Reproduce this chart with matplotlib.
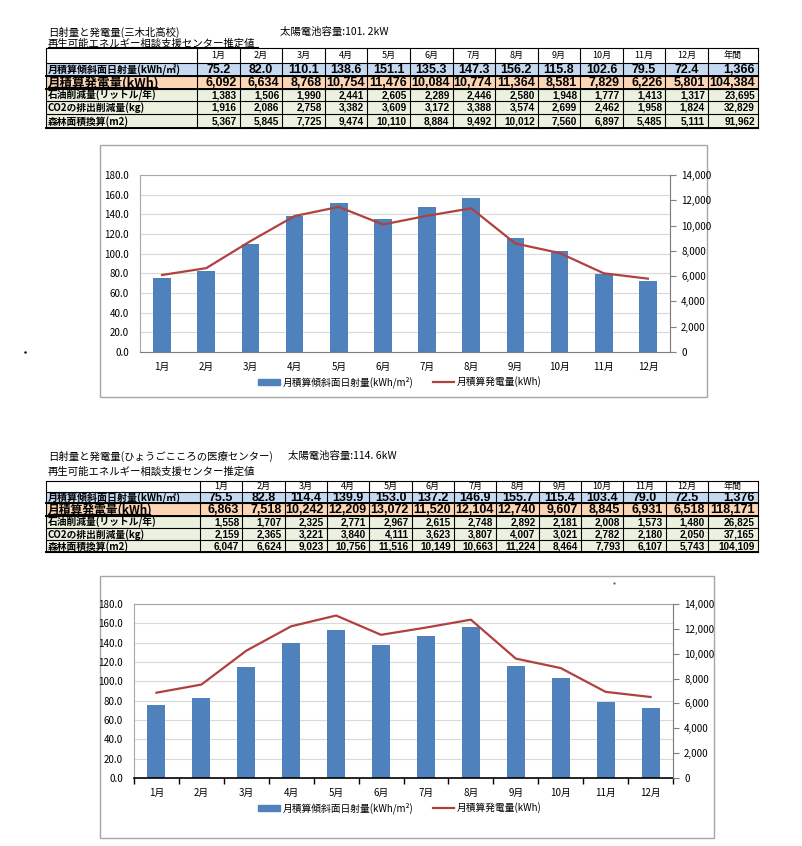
import matplotlib
matplotlib.use("Agg")
import matplotlib.pyplot as plt
from matplotlib.patches import Rectangle
from matplotlib.lines import Line2D
from matplotlib.ticker import FuncFormatter, MultipleLocator

plt.rcParams['font.family'] = ['Noto Sans CJK JP', 'DejaVu Sans']
NUM_FONT = ['Liberation Sans', 'DejaVu Sans']

W, H = 802, 846

months = ['1月', '2月', '3月', '4月', '5月', '6月', '7月', '8月', '9月', '10月', '11月', '12月']
row_labels = ['月積算傾斜面日射量(kWh/㎡)', '月積算発電量(kWh)', '石油削減量(リットル/年)',
              'CO2の排出削減量(kg)', '森林面積換算(m2)']
bar_label = '月積算傾斜面日射量(kWh/m²)'
line_label = '月積算発電量(kWh)'

# 三木北高校
title1 = '日射量と発電量(三木北高校)'
cap1 = '太陽電池容量:101. 2kW'
rad1 = [75.2, 82.0, 110.1, 138.6, 151.1, 135.3, 147.3, 156.2, 115.8, 102.6, 79.5, 72.4]
rad1_year = 1366
pow1 = [6092, 6634, 8768, 10754, 11476, 10084, 10774, 11364, 8581, 7829, 6226, 5801]
pow1_year = 104384
oil1 = [1383, 1506, 1990, 2441, 2605, 2289, 2446, 2580, 1948, 1777, 1413, 1317]
oil1_year = 23695
co2_1 = [1916, 2086, 2758, 3382, 3609, 3172, 3388, 3574, 2699, 2462, 1958, 1824]
co2_1_year = 32829
forest1 = [5367, 5845, 7725, 9474, 10110, 8884, 9492, 10012, 7560, 6897, 5485, 5111]
forest1_year = 91962

# ひょうごこころの医療センター
title2 = '日射量と発電量(ひょうごこころの医療センター)'
cap2 = '太陽電池容量:114. 6kW'
rad2 = [75.5, 82.8, 114.4, 139.9, 153.0, 137.2, 146.9, 155.7, 115.4, 103.4, 79.0, 72.5]
rad2_year = 1376
pow2 = [6863, 7518, 10242, 12209, 13072, 11520, 12104, 12740, 9607, 8845, 6931, 6518]
pow2_year = 118171
oil2 = [1558, 1707, 2325, 2771, 2967, 2615, 2748, 2892, 2181, 2008, 1573, 1480]
oil2_year = 26825
co2_2 = [2159, 2365, 3221, 3840, 4111, 3623, 3807, 4007, 3021, 2782, 2180, 2050]
co2_2_year = 37165
forest2 = [6047, 6624, 9023, 10756, 11516, 10149, 10663, 11224, 8464, 7793, 6107, 5743]
forest2_year = 104109

subtitle = '再生可能エネルギー相談支援センター推定値'

BLUE = '#4F81BD'
RED = '#B0413E'
row_colors = ['#C5D9F1', '#FCD5B4', '#EBF1DE', '#EBF1DE', '#EBF1DE']

fig = plt.figure(figsize=(W / 100, H / 100), dpi=100)
bg = fig.add_axes([0, 0, 1, 1])
bg.set_xlim(0, W)
bg.set_ylim(H, 0)
bg.axis('off')


def draw_table(top, heights, label_right, title, cap, cap_x, title_dy, sub_dy, sub_underline,
               gen_size, gen_ul, rad, rad_y, pw, pw_y, rows3):
    x0, x_year, x1 = 46, 708, 758
    col_w = (x_year - label_right) / 12
    edges = [x0, label_right] + [label_right + col_w * (i + 1) for i in range(12)] + [x1]

    bg.text(48, top - title_dy, title, fontsize=7.5, va='center')
    bg.text(cap_x, top - title_dy, cap, fontsize=7.5, va='center')
    bg.text(48, top - sub_dy, subtitle, fontsize=7.5, va='center')
    if sub_underline:
        bg.plot([48, 258], [top - 0.8, top - 0.8], color='black', lw=0.8)

    ys = [top]
    for h in heights:
        ys.append(ys[-1] + h)

    # backgrounds
    for r in range(5):
        bg.add_patch(Rectangle((x0, ys[r + 1]), x1 - x0, heights[r + 1],
                               facecolor=row_colors[r], edgecolor='none'))
    # grid
    for y in ys:
        bg.plot([x0, x1], [y, y], color='black', lw=0.8)
    for x in edges:
        bg.plot([x, x], [ys[0], ys[-1]], color='black', lw=0.8)
    bg.plot([x0, x1], [ys[2], ys[2]], color='black', lw=1.4)
    bg.plot([x0, x1], [ys[3], ys[3]], color='black', lw=1.4)
    bg.plot([x0, x1], [ys[-1], ys[-1]], color='black', lw=1.4)

    # header
    for i, m in enumerate(months):
        cx = (edges[i + 1] + edges[i + 2]) / 2
        bg.text(cx, (ys[0] + ys[1]) / 2, m, fontsize=6.5, ha='center', va='center')
    bg.text((x_year + x1) / 2, (ys[0] + ys[1]) / 2, '年間', fontsize=6.5, ha='center', va='center')

    # rows
    data_rows = [
        ([f'{v:.1f}' for v in rad] + [f'{rad_y:,}'], 9, 'center'),
        ([f'{v:,}' for v in pw] + [f'{pw_y:,}'], 9, 'right'),
    ]
    for vals, yv in rows3:
        data_rows.append(([f'{v:,}' for v in vals] + [f'{yv:,}'], 7.2, 'right'))

    label_sizes = [7.2, gen_size, 7, 7, 7]
    for r, (vals, fs, ha) in enumerate(data_rows):
        cy = (ys[r + 1] + ys[r + 2]) / 2 + 0.5
        bg.text(48, cy, row_labels[r], fontsize=label_sizes[r], fontweight='bold', ha='left', va='center')
        for i, s in enumerate(vals):
            a, b = edges[i + 1], edges[i + 2]
            hh = 'right' if i == 12 else ha
            tx = (a + b) / 2 if hh == 'center' else b - 3
            bg.text(tx, cy, s, fontsize=fs, fontweight='bold', ha=hh, va='center', family=NUM_FONT)
    # underline for generation label
    uy = ys[3] - 1.8
    bg.plot([48, gen_ul], [uy, uy], color='black', lw=0.9)


draw_table(48, [15, 13, 13, 12, 13, 14], 197, title1, cap1, 280, 16, 4, True, 9, 157,
           rad1, rad1_year, pow1, pow1_year,
           [(oil1, oil1_year), (co2_1, co2_1_year), (forest1, forest1_year)])
draw_table(481, [11, 11, 13, 12, 12, 12], 200, title2, cap2, 288, 25, 9, False, 8.5, 150,
           rad2, rad2_year, pow2, pow2_year,
           [(oil2, oil2_year), (co2_2, co2_2_year), (forest2, forest2_year)])


def draw_chart(frame, plot, rad, pw, cat_ticks, legend_y):
    fl, ft, fr, fb = frame
    bg.add_patch(Rectangle((fl, ft), fr - fl, fb - ft, facecolor='none', edgecolor='#A6A6A6', lw=1))
    pl, pt, pr, pb = plot
    ax = fig.add_axes([pl / W, 1 - pb / H, (pr - pl) / W, (pb - pt) / H])
    x = list(range(12))
    ax.bar(x, rad, width=0.4, color=BLUE, zorder=2, label=bar_label)
    ax.set_xlim(-0.5, 11.5)
    ax.set_ylim(0, 180)
    ax.yaxis.set_major_locator(MultipleLocator(20))
    ax.yaxis.set_major_formatter(FuncFormatter(lambda v, p: f'{v:.1f}'))
    ax.grid(axis='y', color='#D9D9D9', lw=0.8, zorder=0)
    ax.set_xticks(x)
    ax.set_xticklabels(months)
    ax.tick_params(axis='x', length=0, labelsize=7, pad=7)
    ax.tick_params(axis='y', length=0, labelsize=7, pad=8)
    if cat_ticks:
        ax.set_xticks([i - 0.5 for i in range(13)], minor=True)
        ax.tick_params(axis='x', which='minor', length=4, width=1, color='black')
        ax.spines['bottom'].set_color('black')
        ax.spines['bottom'].set_linewidth(1.2)
    else:
        ax.spines['bottom'].set_color('#7F7F7F')
    for s in ['left', 'top', 'right']:
        ax.spines[s].set_color('#A6A6A6')

    ax2 = ax.twinx()
    ax2.plot(x, pw, color=RED, lw=1.6, label=line_label)
    ax2.set_ylim(0, 14000)
    ax2.yaxis.set_major_locator(MultipleLocator(2000))
    ax2.yaxis.set_major_formatter(FuncFormatter(lambda v, p: f'{int(v):,}'))
    ax2.tick_params(axis='y', length=4, width=0.8, color='#7F7F7F', labelsize=7, pad=4)
    ax2.spines['right'].set_color('#7F7F7F')
    for s in ['left', 'top', 'bottom']:
        ax2.spines[s].set_visible(False)

    handles = [Rectangle((0, 0), 1, 1, color=BLUE),
               Line2D([0], [0], color=RED, lw=1.6)]
    fig.legend(handles, [bar_label, line_label], loc='center', ncol=2, frameon=False,
               bbox_to_anchor=(400 / W, 1 - legend_y / H), fontsize=7,
               handlelength=2.2, handleheight=0.6, columnspacing=2.0, handletextpad=0.3)


draw_chart((100, 145, 707, 397), (140, 175, 670, 352), rad1, pow1, False, 382)
draw_chart((100, 576, 714, 838), (134, 604, 673, 778), rad2, pow2, True, 808)

# stray dots in the source scan
bg.plot([25], [352], marker='.', color='black', ms=1.5)
bg.plot([614], [583], marker='.', color='#555555', ms=1.2)

fig.savefig('out.png', dpi=100)
